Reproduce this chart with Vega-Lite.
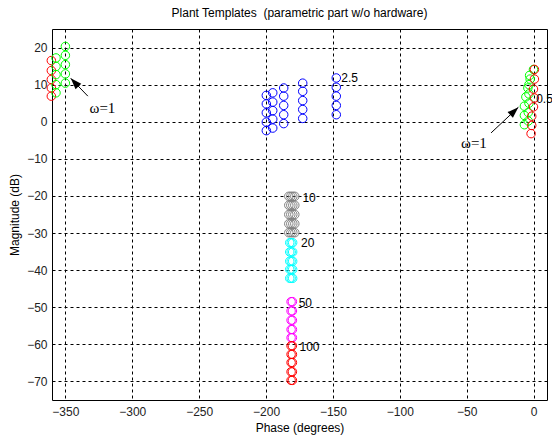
{
  "$schema": "https://vega.github.io/schema/vega-lite/v6.json",
  "width": 495,
  "height": 371,
  "autosize": {"type": "none"},
  "padding": {"left": 52, "top": 29, "right": 5, "bottom": 41},
  "background": "white",
  "title": {"text": "Plant Templates \u00a0(parametric part w/o hardware)", "font": "Liberation Sans", "fontSize": 12, "fontWeight": "normal", "color": "black", "offset": 9},
  "config": {
    "view": {"stroke": "black", "strokeWidth": 1},
    "axis": {
      "domain": false, "ticks": false, "grid": true, "gridColor": "black", "gridDash": [3, 3], "gridOpacity": 1, "gridWidth": 1,
      "labelFont": "Liberation Sans", "labelFontSize": 12, "labelColor": "#222222",
      "titleFont": "Liberation Sans", "titleFontSize": 12, "titleFontWeight": "normal", "titleColor": "black"
    }
  },
  "datasets": {
    "pts": [
      {"phase": -360.5, "mag": 16.5, "series": "r"},
      {"phase": -360.5, "mag": 13.8, "series": "r"},
      {"phase": -360.5, "mag": 11.4, "series": "r"},
      {"phase": -360.5, "mag": 9.1, "series": "r"},
      {"phase": -360.5, "mag": 6.9, "series": "r"},
      {"phase": -357, "mag": 17.2, "series": "g"},
      {"phase": -357, "mag": 14.9, "series": "g"},
      {"phase": -357, "mag": 12.7, "series": "g"},
      {"phase": -357, "mag": 10.0, "series": "g"},
      {"phase": -357, "mag": 7.8, "series": "g"},
      {"phase": -350, "mag": 20.3, "series": "g"},
      {"phase": -350, "mag": 17.9, "series": "g"},
      {"phase": -350, "mag": 15.4, "series": "g"},
      {"phase": -350, "mag": 12.9, "series": "g"},
      {"phase": -350, "mag": 10.4, "series": "g"},
      {"phase": -199.8, "mag": 7.1, "series": "b"},
      {"phase": -199.8, "mag": 4.8, "series": "b"},
      {"phase": -199.8, "mag": 2.4, "series": "b"},
      {"phase": -199.8, "mag": -0.1, "series": "b"},
      {"phase": -199.8, "mag": -2.4, "series": "b"},
      {"phase": -195, "mag": 7.8, "series": "b"},
      {"phase": -195, "mag": 5.3, "series": "b"},
      {"phase": -195, "mag": 3.0, "series": "b"},
      {"phase": -195, "mag": 0.7, "series": "b"},
      {"phase": -195, "mag": -1.7, "series": "b"},
      {"phase": -186.8, "mag": 9.1, "series": "b"},
      {"phase": -186.8, "mag": 6.9, "series": "b"},
      {"phase": -186.8, "mag": 4.4, "series": "b"},
      {"phase": -186.8, "mag": 1.9, "series": "b"},
      {"phase": -186.8, "mag": -0.5, "series": "b"},
      {"phase": -172.6, "mag": 10.4, "series": "b"},
      {"phase": -172.6, "mag": 8.2, "series": "b"},
      {"phase": -172.6, "mag": 5.7, "series": "b"},
      {"phase": -172.6, "mag": 3.3, "series": "b"},
      {"phase": -172.6, "mag": 0.9, "series": "b"},
      {"phase": -147.5, "mag": 11.8, "series": "b"},
      {"phase": -147.5, "mag": 9.3, "series": "b"},
      {"phase": -147.5, "mag": 6.9, "series": "b"},
      {"phase": -147.5, "mag": 4.4, "series": "b"},
      {"phase": -147.5, "mag": 1.9, "series": "b"},
      {"phase": -183, "mag": -20.1, "series": "k"},
      {"phase": -183, "mag": -22.5, "series": "k"},
      {"phase": -183, "mag": -25.0, "series": "k"},
      {"phase": -183, "mag": -27.5, "series": "k"},
      {"phase": -183, "mag": -29.9, "series": "k"},
      {"phase": -181.5, "mag": -20.1, "series": "k"},
      {"phase": -181.5, "mag": -22.5, "series": "k"},
      {"phase": -181.5, "mag": -25.0, "series": "k"},
      {"phase": -181.5, "mag": -27.5, "series": "k"},
      {"phase": -181.5, "mag": -29.9, "series": "k"},
      {"phase": -180, "mag": -20.1, "series": "k"},
      {"phase": -180, "mag": -22.5, "series": "k"},
      {"phase": -180, "mag": -25.0, "series": "k"},
      {"phase": -180, "mag": -27.5, "series": "k"},
      {"phase": -180, "mag": -29.9, "series": "k"},
      {"phase": -178.5, "mag": -20.1, "series": "k"},
      {"phase": -178.5, "mag": -22.5, "series": "k"},
      {"phase": -178.5, "mag": -25.0, "series": "k"},
      {"phase": -178.5, "mag": -27.5, "series": "k"},
      {"phase": -178.5, "mag": -29.9, "series": "k"},
      {"phase": -182.3, "mag": -32.6, "series": "c"},
      {"phase": -182.3, "mag": -35.1, "series": "c"},
      {"phase": -182.3, "mag": -37.6, "series": "c"},
      {"phase": -182.3, "mag": -39.8, "series": "c"},
      {"phase": -182.3, "mag": -42.2, "series": "c"},
      {"phase": -181.2, "mag": -32.6, "series": "c"},
      {"phase": -181.2, "mag": -35.1, "series": "c"},
      {"phase": -181.2, "mag": -37.6, "series": "c"},
      {"phase": -181.2, "mag": -39.8, "series": "c"},
      {"phase": -181.2, "mag": -42.2, "series": "c"},
      {"phase": -180.1, "mag": -32.6, "series": "c"},
      {"phase": -180.1, "mag": -35.1, "series": "c"},
      {"phase": -180.1, "mag": -37.6, "series": "c"},
      {"phase": -180.1, "mag": -39.8, "series": "c"},
      {"phase": -180.1, "mag": -42.2, "series": "c"},
      {"phase": -181.3, "mag": -48.5, "series": "m"},
      {"phase": -181.3, "mag": -51.0, "series": "m"},
      {"phase": -181.3, "mag": -53.5, "series": "m"},
      {"phase": -181.3, "mag": -56.0, "series": "m"},
      {"phase": -181.3, "mag": -58.2, "series": "m"},
      {"phase": -180.3, "mag": -48.5, "series": "m"},
      {"phase": -180.3, "mag": -51.0, "series": "m"},
      {"phase": -180.3, "mag": -53.5, "series": "m"},
      {"phase": -180.3, "mag": -56.0, "series": "m"},
      {"phase": -180.3, "mag": -58.2, "series": "m"},
      {"phase": -181.3, "mag": -60.4, "series": "r"},
      {"phase": -181.3, "mag": -62.7, "series": "r"},
      {"phase": -181.3, "mag": -64.9, "series": "r"},
      {"phase": -181.3, "mag": -67.4, "series": "r"},
      {"phase": -181.3, "mag": -69.7, "series": "r"},
      {"phase": -180.3, "mag": -60.4, "series": "r"},
      {"phase": -180.3, "mag": -62.7, "series": "r"},
      {"phase": -180.3, "mag": -64.9, "series": "r"},
      {"phase": -180.3, "mag": -67.4, "series": "r"},
      {"phase": -180.3, "mag": -69.7, "series": "r"},
      {"phase": -0.1, "mag": 14.1, "series": "g"},
      {"phase": -2.6, "mag": 11.5, "series": "g"},
      {"phase": -4.3, "mag": 9.1, "series": "g"},
      {"phase": -5.8, "mag": 6.7, "series": "g"},
      {"phase": -6.9, "mag": 4.2, "series": "g"},
      {"phase": -6.9, "mag": 1.7, "series": "g"},
      {"phase": -6.9, "mag": -0.8, "series": "g"},
      {"phase": -3.0, "mag": 12.5, "series": "g"},
      {"phase": -3.5, "mag": 10.0, "series": "g"},
      {"phase": -3.5, "mag": 7.5, "series": "g"},
      {"phase": -3.5, "mag": 5.0, "series": "g"},
      {"phase": -4.0, "mag": 2.5, "series": "g"},
      {"phase": -4.0, "mag": 0.2, "series": "g"},
      {"phase": 0.6, "mag": 14.1, "series": "r"},
      {"phase": 0.6, "mag": 11.5, "series": "r"},
      {"phase": -0.1, "mag": 8.8, "series": "r"},
      {"phase": 0.6, "mag": 6.4, "series": "r"},
      {"phase": -0.1, "mag": 4.0, "series": "r"},
      {"phase": -1.4, "mag": 1.5, "series": "r"},
      {"phase": -1.4, "mag": -1.0, "series": "r"},
      {"phase": -1.9, "mag": -3.2, "series": "r"}
    ]
  },
  "layer": [
    {
      "data": {"name": "pts"},
      "mark": {"type": "point", "shape": "circle", "filled": false, "size": 72, "strokeWidth": 1, "opacity": 1},
      "encoding": {
        "x": {"field": "phase", "type": "quantitative", "scale": {"domain": [-360, 10], "nice": false, "zero": false}, "axis": {"values": [-350, -300, -250, -200, -150, -100, -50, 0], "title": "Phase (degrees)", "labelPadding": 6, "titlePadding": 5}},
        "y": {"field": "mag", "type": "quantitative", "scale": {"domain": [-75, 25], "nice": false, "zero": false}, "axis": {"values": [-70, -60, -50, -40, -30, -20, -10, 0, 10, 20], "title": "Magnitude (dB)", "labelPadding": 5, "titlePadding": 5}},
        "color": {"field": "series", "type": "nominal", "scale": {"domain": ["r", "g", "b", "k", "c", "m"], "range": ["#ff0000", "#00ff00", "#0000ff", "#808080", "#00ffff", "#ff00ff"]}, "legend": null}
      }
    },
    {
      "data": {"values": [
        {"phase": -143.8, "mag": 11.8, "label": "2.5"},
        {"phase": -172.8, "mag": -20.5, "label": "10"},
        {"phase": -173.8, "mag": -32.6, "label": "20"},
        {"phase": -175.6, "mag": -48.8, "label": "50"},
        {"phase": -175.0, "mag": -60.7, "label": "100"},
        {"phase": 1.9, "mag": 6.0, "label": "0.5"}
      ]},
      "mark": {"type": "text", "align": "left", "baseline": "middle", "font": "Liberation Sans", "fontSize": 12, "color": "black"},
      "encoding": {
        "x": {"field": "phase", "type": "quantitative"},
        "y": {"field": "mag", "type": "quantitative"},
        "text": {"field": "label"}
      }
    },
    {
      "data": {"values": [
        {"phase": -322.3, "mag": 3.7, "label": "ω=1"},
        {"phase": -44.6, "mag": -5.7, "label": "ω=1"}
      ]},
      "mark": {"type": "text", "align": "center", "baseline": "middle", "font": "Liberation Serif", "fontSize": 15, "color": "black"},
      "encoding": {
        "x": {"field": "phase", "type": "quantitative"},
        "y": {"field": "mag", "type": "quantitative"},
        "text": {"field": "label"}
      }
    },
    {
      "data": {"values": [
        {"x1": -333.2, "y1": 6.9, "x2": -346.0, "y2": 11.7, "ang": 316.6},
        {"x1": -31.8, "y1": -3.0, "x2": -11.4, "y2": 3.9, "ang": 46.7}
      ]},
      "layer": [
        {
          "mark": {"type": "rule", "color": "black", "strokeWidth": 1},
          "encoding": {
            "x": {"field": "x1", "type": "quantitative"},
            "y": {"field": "y1", "type": "quantitative"},
            "x2": {"field": "x2"},
            "y2": {"field": "y2"}
          }
        },
        {
          "mark": {"type": "point", "shape": "M0,0L-0.35,1L0.35,1Z", "filled": true, "color": "black", "size": 500, "opacity": 1},
          "encoding": {
            "x": {"field": "x2", "type": "quantitative"},
            "y": {"field": "y2", "type": "quantitative"},
            "angle": {"field": "ang", "type": "quantitative", "scale": null}
          }
        }
      ]
    }
  ]
}
